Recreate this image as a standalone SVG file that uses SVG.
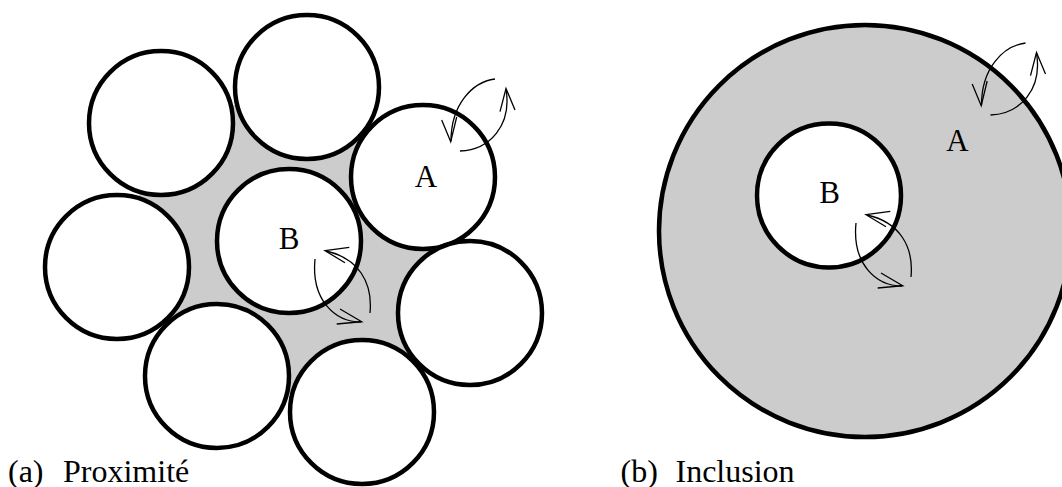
<svg xmlns="http://www.w3.org/2000/svg" xmlns:xlink="http://www.w3.org/1999/xlink" width="1062" height="487" viewBox="0 0 1062 487">
<style>
.c{fill:#fff;stroke:#000;stroke-width:4.5}
.g{fill:#ccc;stroke:none}
.gc{fill:#ccc;stroke:#000;stroke-width:4.5}
.a{fill:none;stroke:#000;stroke-width:1.3}
.t{font-size:31px;text-anchor:middle;fill:#000}
.cap{font-size:32px;fill:#000}
</style>
<defs>
<g id="arrA">
<path class="a" d="M495,79 C472,82 451,105 451,141"/>
<polyline class="a" points="441.7,120 450.7,141.7 456.7,117"/>
<path class="a" d="M460,151 C490,150 512,125 506,89"/>
<polyline class="a" points="500,111.7 506,88.5 515,110"/>
</g>
<g id="arrB">
<path class="a" d="M370,313 C373,282 358,258 326,251"/>
<polyline class="a" points="349.3,247.3 325,250.7 345,262.7"/>
<path class="a" d="M315,259 C311,300 335,322 361,322"/>
<polyline class="a" points="340,309 361.7,321.7 336.7,324"/>
</g>
</defs>

<g id="fig-a">
<polygon id="gap" class="g" points="161,123 307,87 423,177 470,313 362,412 217,376 117,267"/>
<g id="circle-topleft"><circle class="c" cx="161" cy="123" r="72"/></g>
<g id="circle-top"><circle class="c" cx="307" cy="87" r="72"/></g>
<g id="circle-A"><circle class="c" cx="423" cy="177" r="72"/><text class="t" x="426" y="187" font-family="Times New Roman, Times, Liberation Serif, DejaVu Serif, serif">A</text></g>
<g id="circle-right"><circle class="c" cx="470" cy="313" r="72"/></g>
<g id="circle-bottom"><circle class="c" cx="362" cy="412" r="72"/></g>
<g id="circle-bottomleft"><circle class="c" cx="217" cy="376" r="72"/></g>
<g id="circle-left"><circle class="c" cx="117" cy="267" r="72"/></g>
<g id="circle-B"><circle class="c" cx="289" cy="241" r="72"/><text class="t" x="289" y="249" font-family="Times New Roman, Times, Liberation Serif, DejaVu Serif, serif">B</text></g>
<g id="caption-a"><text class="cap" x="8" y="482" font-family="Times New Roman, Times, Liberation Serif, DejaVu Serif, serif">(a)</text><text class="cap" x="63" y="482" font-family="Times New Roman, Times, Liberation Serif, DejaVu Serif, serif">Proximité</text></g>
</g>

<g id="fig-b">
<g id="region-A"><circle class="gc" cx="865" cy="231" r="206"/><text class="t" x="957.5" y="151" font-family="Times New Roman, Times, Liberation Serif, DejaVu Serif, serif">A</text></g>
<g id="region-B"><circle class="c" cx="829" cy="195.5" r="72"/><text class="t" x="829.5" y="203" font-family="Times New Roman, Times, Liberation Serif, DejaVu Serif, serif">B</text></g>
<g id="caption-b"><text class="cap" x="620.5" y="482" font-family="Times New Roman, Times, Liberation Serif, DejaVu Serif, serif">(b)</text><text class="cap" x="675.5" y="482" font-family="Times New Roman, Times, Liberation Serif, DejaVu Serif, serif">Inclusion</text></g>
</g>

<g id="connectors">
<use xlink:href="#arrA"/>
<use xlink:href="#arrB"/>
<use xlink:href="#arrA" transform="translate(530.5,-36)"/>
<use xlink:href="#arrB" transform="translate(541,-36)"/>
</g>
</svg>
